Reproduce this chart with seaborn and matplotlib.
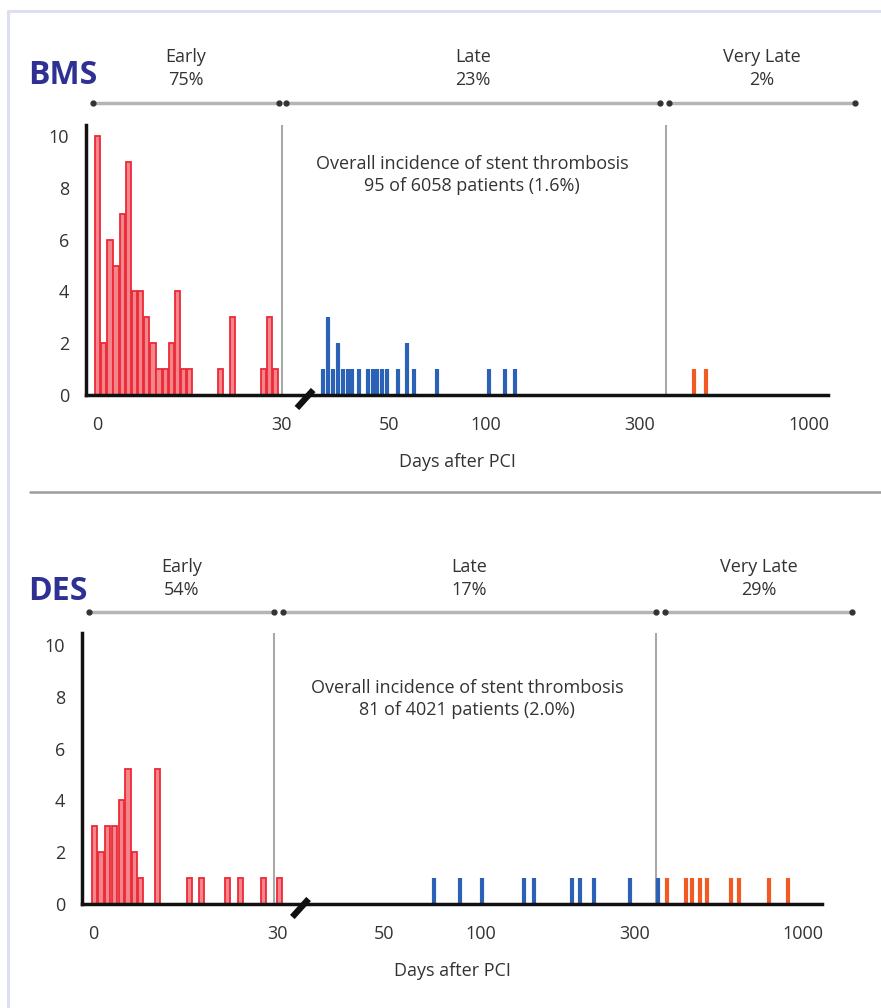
import numpy as np
import pandas as pd
import matplotlib
matplotlib.use("Agg")
import matplotlib.pyplot as plt
from matplotlib.lines import Line2D
import seaborn as sns

# ---------------- data ----------------
xtick_vals = [0, 30, 50, 100, 300, 1000]
xtick_labels = ["0", "30", "50", "100", "300", "1000"]
ytick_vals = [0, 2, 4, 6, 8, 10]

bms_early_days = [0, 1, 2, 3, 4, 5, 6, 7, 8, 9, 10, 11, 12, 13, 14, 15, 20, 22, 27, 28, 29]
bms_early_counts = [10, 2, 6, 5, 7, 9, 4, 4, 3, 2, 1, 1, 2, 4, 1, 1, 1, 3, 1, 3, 1]
bms_late_days = [31.1, 32.3, 33.5, 34.8, 35.9, 37.2, 38.5, 40.4, 43.0, 44.5, 45.9, 47.5,
                 49.3, 53.5, 56.8, 59.8, 70.6, 101.9, 114.4, 122.8]
bms_late_counts = [1, 3, 1, 2, 1, 1, 1, 1, 1, 1, 1, 1, 1, 1, 2, 1, 1, 1, 1, 1]
bms_vlate_days = [443, 480]
bms_vlate_counts = [1, 1]

des_early_days = [0.2, 1.2, 2.2, 3.4, 4.5, 5.6, 6.7, 7.7, 10.4, 15.6, 17.6, 21.9, 24.0, 27.7, 30.3]
des_early_counts = [3, 2, 3, 3, 4, 5.2, 2, 1, 5.2, 1, 1, 1, 1, 1, 1]
des_late_days = [71.6, 86.3, 100.8, 135.8, 146.4, 191.8, 203, 225, 290, 356]
des_late_counts = [1, 1, 1, 1, 1, 1, 1, 1, 1, 1]
des_vlate_days = [380, 433, 454, 479, 506, 598, 634, 786, 901]
des_vlate_counts = [1, 1, 1, 1, 1, 1, 1, 1, 1]

bms_headers = [("Early", "75%"), ("Late", "23%"), ("Very Late", "2%")]
des_headers = [("Early", "54%"), ("Late", "17%"), ("Very Late", "29%")]
bms_note = "Overall incidence of stent thrombosis\n95 of 6058 patients (1.6%)"
des_note = "Overall incidence of stent thrombosis\n81 of 4021 patients (2.0%)"

# ---------------- broken axis: linear to 31 days, log afterwards ----------------
B = 31.0     # end of linear part
G = 5.55     # gap width (in linear-day units)
K = 52.5     # units per decade in the log part


def fwd(x):
    x = np.asarray(x, dtype=float)
    safe = np.where(x > B, x, B)
    return np.where(x <= B, x, B + G + K * np.log10(safe / B))


def inv(y):
    y = np.asarray(y, dtype=float)
    out = np.where(y <= B, y, B)
    return np.where(y >= B + G, B * 10 ** ((y - B - G) / K), out)


sns.set_style("white")
plt.rcParams["font.family"] = ["Open Sans", "DejaVu Sans"]

W, H = 881, 1008
fig = plt.figure(figsize=(W / 100, H / 100), dpi=100)

red_face = "#f3868d"
red_edge = "#ec2a36"
blue = "#2b62b8"
orange = "#f15a22"
navy = "#2e3192"
txt = "#333333"
fs = 13
xmin, xmax = -1.9, 1150

seg_px_y = {"BMS": 103, "DES": 612}
header_y = {"BMS": 68.5, "DES": 578.5}
note_x = {"BMS": 472, "DES": 467}
note_y = {"BMS": 175, "DES": 699}


def panel(rect_px, early_d, early_c, late_d, late_c, vl_d, vl_c,
          vline1, vline2, label, headers, note, seg_px, label_y):
    left, right, top, bottom = rect_px
    ax = fig.add_axes([left / W, 1 - bottom / H, (right - left) / W, (bottom - top) / H])
    ax.set_xscale("function", functions=(fwd, inv))
    ax.set_xlim(xmin, xmax)
    ax.set_ylim(0, (bottom - top) / 25.9)

    ax.axvline(vline1, color="#a9a9a9", lw=1.5, zorder=1)
    ax.axvline(vline2, color="#a9a9a9", lw=1.5, zorder=1)

    ax.bar(early_d, early_c, width=0.85, facecolor=red_face, edgecolor=red_edge,
           linewidth=1.3, zorder=2)
    ax.vlines(late_d, 0, late_c, color=blue, lw=3.0, zorder=2)
    ax.vlines(vl_d, 0, vl_c, color=orange, lw=3.0, zorder=2)

    sns.despine(ax=ax)
    for s in ["left", "bottom"]:
        ax.spines[s].set_linewidth(2.5)
        ax.spines[s].set_color("#111111")
    ax.set_xticks(xtick_vals)
    ax.set_xticklabels(xtick_labels)
    ax.set_yticks(ytick_vals)
    ax.minorticks_off()
    ax.tick_params(axis="x", direction="out", length=5, width=2, color="#111111",
                   pad=10, labelsize=fs, labelcolor=txt)
    ax.tick_params(axis="y", direction="out", length=6, width=2, color="#111111",
                   pad=6, labelsize=fs, labelcolor=txt)
    ax.set_xlabel("Days after PCI", fontsize=fs, color=txt, labelpad=14)

    # axis break slash
    span = fwd(xmax) - fwd(xmin)
    gx = (fwd(B) + G / 2 - fwd(xmin)) / span
    h = bottom - top
    ax.plot([gx - 0.011, gx + 0.011], [-13 / h, 5 / h], transform=ax.transAxes,
            clip_on=False, color="#111111", lw=4.5, solid_capstyle="butt", zorder=5)

    # period headers with range bars
    wpx = right - left
    for (name, pct), (a, b) in zip(headers, seg_px):
        xa, xb = (a - left) / wpx, (b - left) / wpx
        yy = (bottom - seg_px_y[label]) / h
        ax.plot([xa, xb], [yy, yy], transform=ax.transAxes, clip_on=False,
                color="#b5b5b5", lw=2.5, zorder=3)
        ax.plot([xa, xb], [yy, yy], "o", transform=ax.transAxes, clip_on=False,
                color="#333333", ms=3.5, zorder=4)
        ax.text((xa + xb) / 2, (bottom - header_y[label]) / h, name + "\n" + pct,
                transform=ax.transAxes, ha="center", va="center", fontsize=fs,
                color=txt, linespacing=1.3)

    ax.text((note_x[label] - left) / wpx, (bottom - note_y[label]) / h, note,
            transform=ax.transAxes, ha="center", va="center", fontsize=fs,
            color=txt, linespacing=1.3)

    fig.text(28 / W, 1 - label_y / H, label, fontsize=23, fontweight="bold",
             color=navy, ha="left", va="center")
    return ax


panel((86, 828, 125, 395), bms_early_days, bms_early_counts, bms_late_days, bms_late_counts,
      bms_vlate_days, bms_vlate_counts, 30, 362, "BMS", bms_headers, bms_note,
      [(93, 279), (286, 660), (669, 855)], 75)
panel((82, 822, 633, 904), des_early_days, des_early_counts, des_late_days, des_late_counts,
      des_vlate_days, des_vlate_counts, 29.4, 350, "DES", des_headers, des_note,
      [(89, 274), (283, 656), (665, 852)], 592)

# frame and separator
fig.add_artist(Line2D([8 / W, 8 / W], [0, 1 - 11 / H], transform=fig.transFigure,
                      color="#dcdff0", lw=2.2))
fig.add_artist(Line2D([8 / W, 1], [1 - 11 / H, 1 - 11 / H], transform=fig.transFigure,
                      color="#dcdff0", lw=2.2))
fig.add_artist(Line2D([30 / W, 1], [1 - 492 / H, 1 - 492 / H], transform=fig.transFigure,
                      color="#9c9c9c", lw=1.8))

fig.savefig("out.png", dpi=100)
